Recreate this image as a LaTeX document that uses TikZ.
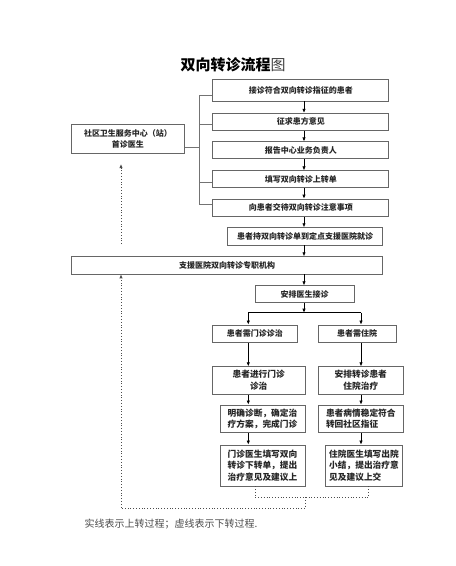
\documentclass[tikz,border=0pt]{standalone}
\usepackage{fontspec}
\setmainfont{Noto Sans CJK SC}
\usetikzlibrary{arrows.meta,positioning,calc}

\begin{document}
\begin{tikzpicture}[x=1pt,y=-1pt,>={Latex[length=4pt,width=3.4pt]},
  box/.style={draw=black!60,line width=0.8pt,inner sep=0pt,align=center,text=black!85,
    font=\fontsize{8}{11}\selectfont\bfseries},
  cell/.style={box,align=left,font=\fontsize{8.7}{11.7}\selectfont\bfseries},
  flow/.style={->,line width=0.7pt},
  brace/.style={draw=black!55,line width=0.7pt},
  down/.style={dotted,line width=0.8pt,draw=black!70}]
  \useasboundingbox[fill=white] (0,0) rectangle (456,566);
  \node[font=\fontsize{15}{15}\selectfont] (title) at (233,65) {\textbf{双向转诊流程}{\color{black!75}图}};

  \node[box,minimum width=176pt,minimum height=22pt] (jz) at (300.8,90) {接诊符合双向转诊指征的患者};
  \node[box,minimum width=176pt,minimum height=17pt] (zq) at (300.8,121.7) {征求患方意见};
  \node[box,minimum width=176pt,minimum height=17pt] (bg) at (300.8,150.3) {报告中心业务负责人};
  \node[box,minimum width=176pt,minimum height=17pt] (tx) at (300.8,179.2) {填写双向转诊上转单};
  \node[box,minimum width=176pt,minimum height=17.5pt] (jd) at (300.8,207.8) {向患者交待双向转诊注意事项};
  \node[box,minimum width=112.6pt,minimum height=29pt] (sq) at (128,138.8) {社区卫生服务中心（站）\\首诊医生};
  \node[box,minimum width=154.6pt,minimum height=17.3pt] (cz) at (305,236.3) {患者持双向转诊单到定点支援医院就诊};
  \node[box,minimum width=310.6pt,minimum height=17.3pt] (zy) at (227,265.3) {支援医院双向转诊专职机构};
  \node[box,minimum width=99pt,minimum height=16.6pt] (ap) at (304.5,294) {安排医生接诊};

  \node[box,minimum width=85pt,minimum height=17.7pt] (mz) at (254.8,333.8) {患者需门诊诊治};
  \node[box,minimum width=77.7pt,minimum height=17.7pt] (zh) at (357.2,333.8) {患者需住院};
  \node[box,minimum width=92.7pt,minimum height=27.6pt,font=\fontsize{8.7}{11.7}\selectfont\bfseries] (jx) at (258.7,380.5) {患者进行门诊\\诊治};
  \node[box,minimum width=85pt,minimum height=27.6pt,font=\fontsize{8.7}{11.7}\selectfont\bfseries] (az) at (360.8,380.5) {安排转诊患者\\住院治疗};
  \node[cell,minimum width=85pt,minimum height=27.7pt] (mq) at (262.5,418.8) {明确诊断，确定治\\疗方案，完成门诊};
  \node[cell,minimum width=85pt,minimum height=27.7pt] (bq) at (360.8,418.8) {患者病情稳定符合\\转回社区指征};
  \node[cell,minimum width=85pt,minimum height=41pt] (ml) at (262.5,465.5) {门诊医生填写双向\\转诊下转单，提出\\治疗意见及建议上};
  \node[cell,minimum width=76.6pt,minimum height=41pt] (mr) at (364,465.5) {住院医生填写出院\\小结，提出治疗意\\见及建议上交};

  \node[font=\fontsize{10}{10}\selectfont,text=black!70] (note) at (171,524) {实线表示上转过程；虚线表示下转过程.};

  \coordinate (ax) at (304,0);
  \foreach \a/\b in {jz/zq,zq/bg,bg/tx,tx/jd,jd/cz,cz/zy,zy/ap}
    \draw[flow] (\a.south -| ax) -- (\b.north -| ax);

  \coordinate (b1) at (199,95.7);
  \coordinate (b2) at (199,124.3);
  \coordinate (b3) at (199,182.7);
  \coordinate (b4) at (199,204.3);
  \coordinate (bc) at (199,147);
  \draw[brace] (b1 -| jz.west) -- (b1) -- (b4) -- (b4 -| jd.west);
  \draw[brace] (b2) -- (b2 -| zq.west);
  \draw[brace] (b3) -- (b3 -| tx.west);
  \draw[brace] (bc -| sq.east) -- (bc);

  \coordinate (fk) at (304,312.7);
  \coordinate (lx) at (248.3,312.7);
  \coordinate (rx) at (361,312.7);
  \draw[flow] (ap.south -| ax) -- (fk);
  \draw[line width=0.7pt] (lx) -- (rx);
  \draw[flow] (lx) -- (mz.north -| lx);
  \draw[flow] (rx) -- (zh.north -| rx);
  \draw[flow] (mz.south -| lx) -- (jx.north -| lx);
  \draw[flow] (zh.south -| rx) -- (az.north -| rx);
  \draw[flow] (jx.south -| lx) -- (mq.north -| lx);
  \draw[flow] (az.south -| rx) -- (bq.north -| rx);
  \draw[flow] (mq.south -| lx) -- (ml.north -| lx);
  \draw[flow] (bq.south -| rx) -- (mr.north -| rx);

  \coordinate (dl) at (255,497.3);
  \coordinate (dr) at (368.3,497.3);
  \coordinate (dm) at (305,497.3);
  \coordinate (dc) at (305,508.3);
  \coordinate (dx) at (121,508.3);
  \draw[down] (ml.south -| dl) -- (dl) -- (dr) -- (mr.south -| dr);
  \draw[down,->] (dm) -- (dc) -- (dx) -- (zy.south -| dx);
  \coordinate (u1) at (121,244);
  \coordinate (u2) at (121,164);
  \draw[down,->] (u1) -- (u2);
\end{tikzpicture}
\end{document}
